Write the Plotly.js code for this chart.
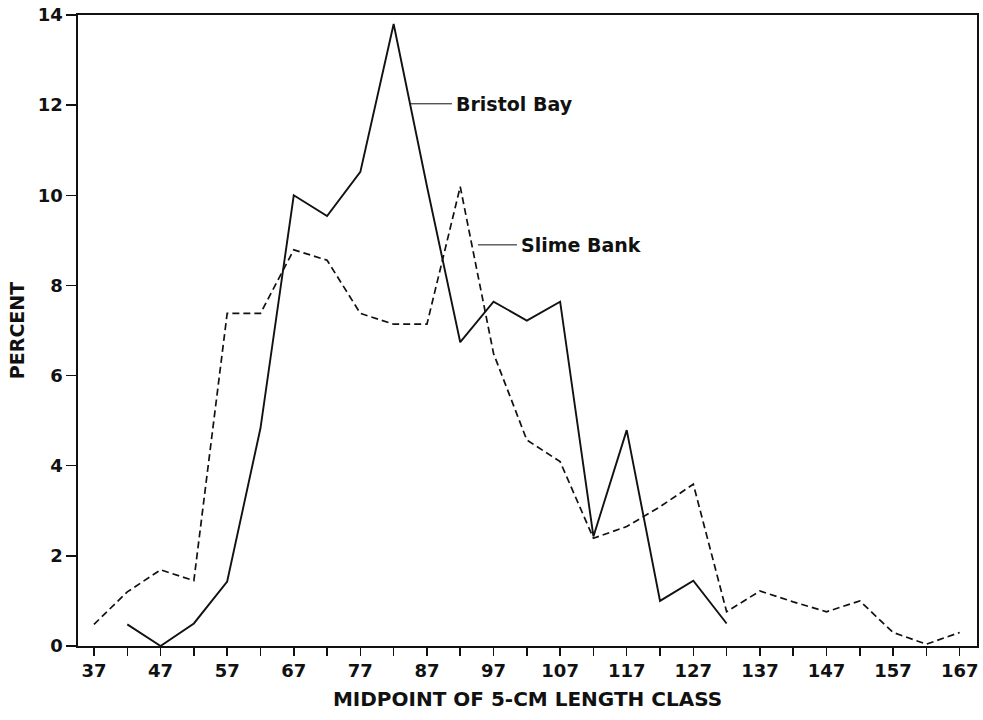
<!DOCTYPE html>
<html>
<head>
<meta charset="utf-8">
<script src="https://cdn.plot.ly/plotly-3.0.1.min.js"></script>
<style>
  html, body { margin: 0; padding: 0; background: #ffffff; }
  #chart { width: 983px; height: 720px; }
</style>
</head>
<body>
<div id="chart"></div>
<script>
// Data
var bristolX = [42, 47, 52, 57, 62, 67, 72, 77, 82, 87, 92, 97, 102, 107, 112, 117, 122, 127, 132];
var bristolY = [0.48, 0.0, 0.5, 1.43, 4.83, 10.0, 9.54, 10.52, 13.8, 10.2, 6.74, 7.64, 7.22, 7.64, 2.43, 4.79, 1.0, 1.45, 0.5];

var slimeX = [37, 42, 47, 52, 57, 62, 67, 72, 77, 82, 87, 92, 97, 102, 107, 112, 117, 122, 127, 132, 137, 142, 147, 152, 157, 162, 167];
var slimeY = [0.48, 1.2, 1.69, 1.45, 7.38, 7.38, 8.79, 8.56, 7.38, 7.14, 7.14, 10.19, 6.49, 4.57, 4.09, 2.39, 2.65, 3.09, 3.59, 0.76, 1.22, 0.98, 0.76, 1.0, 0.3, 0.04, 0.3];

var xTickVals = [37, 47, 57, 67, 77, 87, 97, 107, 117, 127, 137, 147, 157, 167];
var xTickText = ["37", "47", "57", "67", "77", "87", "97", "107", "117", "127", "137", "147", "157", "167"];
var yTickVals = [0, 2, 4, 6, 8, 10, 12, 14];
var yTickText = ["0", "2", "4", "6", "8", "10", "12", "14"];

var seriesNames = ["Bristol Bay", "Slime Bank"];

var FONT = "DejaVu Sans, Liberation Sans, Arial, sans-serif";

var traces = [
  {
    x: bristolX, y: bristolY, type: "scatter", mode: "lines",
    name: seriesNames[0],
    line: { color: "#111111", width: 1.9 },
    cliponaxis: false
  },
  {
    x: slimeX, y: slimeY, type: "scatter", mode: "lines",
    name: seriesNames[1],
    line: { color: "#111111", width: 1.7, dash: "7px,4px" },
    cliponaxis: false
  }
];

var layout = {
  width: 983, height: 720,
  paper_bgcolor: "#ffffff", plot_bgcolor: "#ffffff",
  margin: { l: 78, r: 6, t: 15, b: 74 },
  showlegend: false,
  font: { family: FONT, color: "#111111" },
  xaxis: {
    range: [34.6, 169.6],
    tickmode: "array", tickvals: xTickVals, ticktext: xTickText,
    ticks: "outside", ticklen: 8, tickwidth: 1.5, tickcolor: "#111111",
    minor: { tickmode: "linear", tick0: 42, dtick: 10, ticks: "outside", ticklen: 8, tickwidth: 1.5, tickcolor: "#111111", showgrid: false },
    showgrid: false, zeroline: false,
    showline: true, linecolor: "#111111", linewidth: 1.6, mirror: true,
    tickfont: { family: FONT, size: 18, color: "#111111", weight: "bold" },
    title: { text: "MIDPOINT OF 5-CM LENGTH CLASS", font: { family: FONT, size: 20, color: "#111111", weight: "bold" }, standoff: 12 }
  },
  yaxis: {
    range: [0, 14],
    tickmode: "array", tickvals: yTickVals, ticktext: yTickText,
    ticks: "outside", ticklen: 10, tickwidth: 1.5, tickcolor: "#111111",
    showgrid: false, zeroline: false,
    showline: true, linecolor: "#111111", linewidth: 1.6, mirror: true,
    tickfont: { family: FONT, size: 18, color: "#111111", weight: "bold" },
    title: { text: "PERCENT", font: { family: FONT, size: 19, color: "#111111", weight: "bold" }, standoff: 8 }
  },
  annotations: [
    {
      x: 84.45, y: 12.03, xref: "x", yref: "y",
      text: seriesNames[0], showarrow: true, arrowhead: 0, arrowwidth: 1, arrowcolor: "#111111",
      ax: 42, ay: 0, xanchor: "left", yanchor: "middle", standoff: 0, borderpad: 3,
      font: { family: FONT, size: 19, color: "#111111", weight: "bold" }
    },
    {
      x: 94.66, y: 8.9, xref: "x", yref: "y",
      text: seriesNames[1], showarrow: true, arrowhead: 0, arrowwidth: 1, arrowcolor: "#111111",
      ax: 39, ay: 0, xanchor: "left", yanchor: "middle", standoff: 0, borderpad: 3,
      font: { family: FONT, size: 19, color: "#111111", weight: "bold" }
    }
  ]
};

Plotly.newPlot("chart", traces, layout, { displayModeBar: false, staticPlot: true });
</script>
</body>
</html>
